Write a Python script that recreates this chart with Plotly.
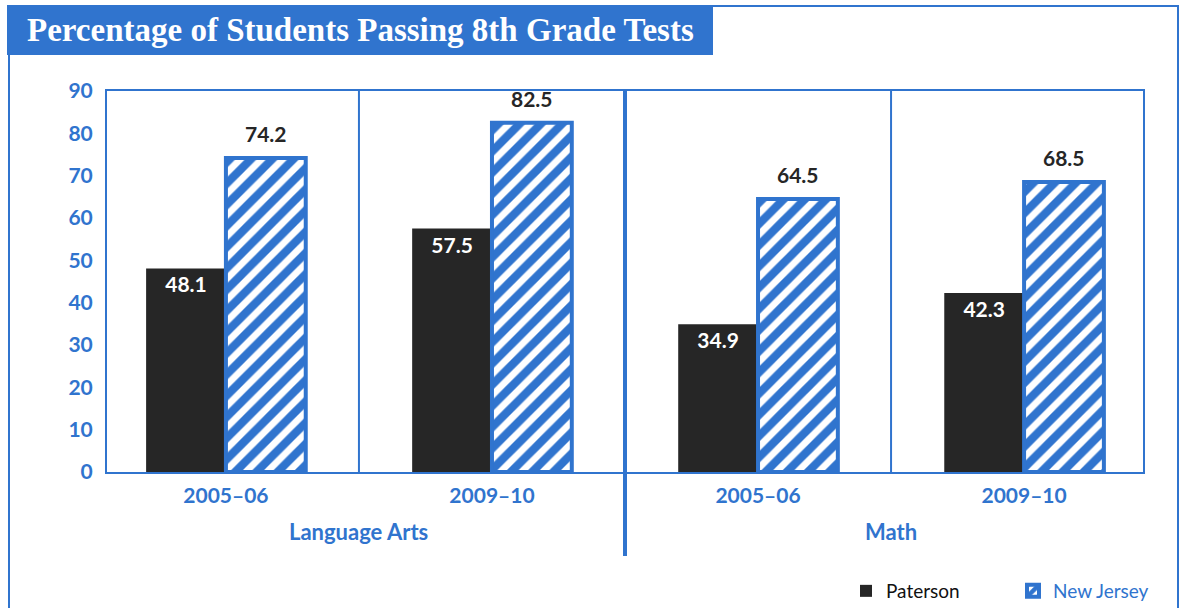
import plotly.graph_objects as go

# data
periods = ["2005–06", "2009–10", "2005–06", "2009–10"]
subjects = ["Language Arts", "Math"]
paterson = [48.1, 57.5, 34.9, 42.3]
new_jersey = [74.2, 82.5, 64.5, 68.5]
y_ticks = [0, 10, 20, 30, 40, 50, 60, 70, 80, 90]

BLUE = "#3074CE"
DARK = "#262626"
SANS = "Lato"

# plot area in pixels (for placing decorations outside the axes)
L, R, T, B = 107, 1143, 91, 472


def px_x(px):
    return (px - L) / (R - L)


def px_y(py):
    return (B - py) / (B - T)


xs = list(range(len(periods)))

fig = go.Figure()

fig.add_trace(go.Bar(
    x=xs, y=paterson, name="Paterson",
    marker=dict(color=DARK, line=dict(width=0)),
    text=[f"{v:.1f}" for v in paterson],
    textposition="inside", insidetextanchor="end", textangle=0,
    textfont=dict(family=SANS, size=21, color="white", weight="bold"),
))

fig.add_trace(go.Bar(
    x=xs, y=new_jersey, name="<span style='color:%s'>New Jersey</span>" % BLUE,
    marker=dict(
        color="white",
        line=dict(color=BLUE, width=4),
        pattern=dict(shape="/", fgcolor=BLUE, bgcolor="white", fgopacity=1,
                     fillmode="replace", size=15, solidity=0.55),
    ),
))

# value labels above the New Jersey bars (right half of each group)
for x, v in zip(xs, new_jersey):
    fig.add_annotation(
        x=x, y=v, xref="x", yref="y", xshift=40, yshift=10,
        yanchor="bottom", text=f"{v:.1f}", showarrow=False,
        font=dict(family=SANS, size=21, color=DARK, weight="bold"),
    )

fig.update_layout(
    width=1183, height=608,
    margin=dict(l=L, r=1183 - R, t=T, b=608 - B, autoexpand=False),
    paper_bgcolor="white", plot_bgcolor="white",
    barmode="group", bargap=0.4, bargroupgap=0,
    font=dict(family=SANS, color=BLUE),
    legend=dict(
        orientation="h", x=px_x(846), xanchor="left",
        y=px_y(591), yanchor="middle",
        font=dict(family=SANS, size=19, color="#111111"),
        bgcolor="rgba(0,0,0,0)", entrywidth=122,
    ),
)

fig.update_xaxes(
    tickmode="array", tickvals=xs, ticktext=periods,
    range=[-0.447, 3.447],
    tickfont=dict(family=SANS, size=21, color=BLUE, weight="bold"),
    showgrid=False, zeroline=False, ticks="", ticklabelstandoff=4,
    showline=True, linecolor=BLUE, linewidth=2, mirror=True,
)

fig.update_yaxes(
    range=[0, 90], tickvals=y_ticks,
    tickfont=dict(family=SANS, size=21, color=BLUE, weight="bold"),
    showgrid=False, zeroline=False, ticks="", ticklabelstandoff=8,
    showline=True, linecolor=BLUE, linewidth=2, mirror=True,
)

# panel dividers
fig.add_shape(type="line", xref="x", yref="paper", x0=0.5, x1=0.5, y0=0, y1=1,
              line=dict(color=BLUE, width=2))
fig.add_shape(type="line", xref="x", yref="paper", x0=2.5, x1=2.5, y0=0, y1=1,
              line=dict(color=BLUE, width=2))
fig.add_shape(type="line", xref="x", yref="paper", x0=1.5, x1=1.5, y0=px_y(556), y1=1,
              line=dict(color=BLUE, width=4))

# subject labels
for i, subj in enumerate(subjects):
    fig.add_annotation(
        x=2 * i + 0.5, xref="x", y=px_y(531), yref="paper", yanchor="middle",
        text=subj, showarrow=False,
        font=dict(family=SANS, size=22, color=BLUE, weight="bold"),
    )

# outer frame
fig.add_shape(type="rect", xref="paper", yref="paper",
              x0=px_x(9), x1=px_x(1178), y0=px_y(640), y1=px_y(6),
              line=dict(color=BLUE, width=2), layer="below")

# title banner
fig.add_shape(type="rect", xref="paper", yref="paper",
              x0=px_x(7), x1=px_x(713), y0=px_y(55), y1=px_y(5),
              fillcolor=BLUE, line=dict(width=0))
fig.add_annotation(
    x=px_x(25), xref="paper", xanchor="left",
    y=px_y(30), yref="paper", yanchor="middle",
    text="Percentage of Students Passing 8th Grade Tests", showarrow=False,
    font=dict(family="Liberation Serif", size=33, color="white", weight="bold"),
)

fig.write_html("out.html", config={"displayModeBar": False},
               post_script="document.body.style.margin='0px';")
